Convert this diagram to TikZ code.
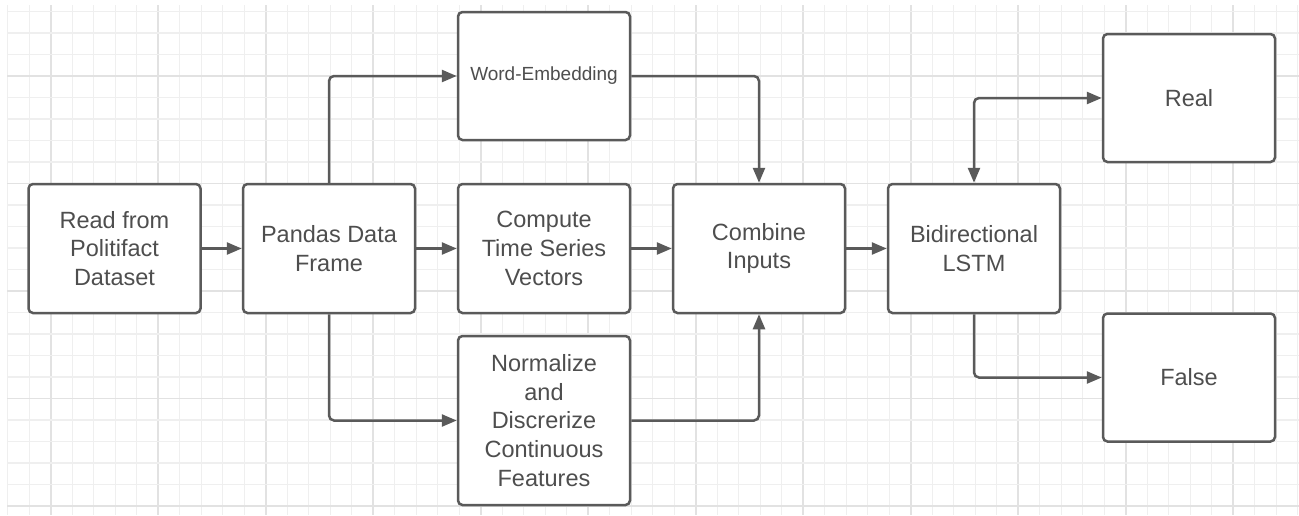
\documentclass[tikz,border=0pt]{standalone}
\usepackage{fontspec}
\setmainfont{Liberation Sans}
\usetikzlibrary{arrows.meta}
\definecolor{edge}{HTML}{5A5A5A}
\definecolor{ink}{HTML}{4E4E4E}
\definecolor{gridminor}{HTML}{EFEFEF}
\definecolor{gridmajor}{HTML}{E2E2E2}
\tikzset{
  stepbox/.style={draw=edge, line width=2.5pt, rounded corners=4.5pt, fill=white,
    minimum width=172pt, minimum height=129pt, align=center, text=ink,
    font=\fontsize{23.5pt}{28.7pt}\selectfont, inner sep=2pt},
  smalltext/.style={font=\fontsize{19pt}{23pt}\selectfont},
  conn/.style={draw=edge, line width=2.5pt, rounded corners=5pt,
    -{Triangle[length=15pt,width=12pt]}},
  biconn/.style={draw=edge, line width=2.5pt, rounded corners=5pt,
    {Triangle[length=15pt,width=12pt]}-{Triangle[length=15pt,width=12pt]}}
}
\begin{document}
\begin{tikzpicture}[x=1pt,y=-1pt]
% canvas
\fill[white] (0,0) rectangle (1299,515);
\useasboundingbox (0,0) rectangle (1299,515);
% background grid
\foreach \k in {0,...,60}{
  \pgfmathsetmacro{\gx}{7.7+21.5*\k}
  \pgfmathtruncatemacro{\m}{mod(\k+3,5)}
  \ifnum\m=0
    \draw[gridmajor, line width=1.8pt] (\gx,5) -- (\gx,515);
  \else
    \draw[gridminor, line width=1.4pt] (\gx,5) -- (\gx,515);
  \fi
}
\foreach \k in {0,...,23}{
  \pgfmathsetmacro{\gy}{11.5+21.5*\k}
  \pgfmathtruncatemacro{\m}{mod(\k+2,5)}
  \ifnum\m=0
    \draw[gridmajor, line width=1.8pt] (7,\gy) -- (1299,\gy);
  \else
    \draw[gridminor, line width=1.4pt] (7,\gy) -- (1299,\gy);
  \fi
}
% processing steps
\node[stepbox] (read) at (114.5,248.5) {Read from\\Politifact\\Dataset};
\node[stepbox] (pandas) at (329,248.5) {Pandas Data\\Frame};
\node[stepbox, smalltext, minimum height=128pt] (word) at (544,76) {Word-Embedding};
\node[stepbox] (compute) at (544,248.5) {Compute\\Time Series\\Vectors};
\node[stepbox, minimum height=169pt] (norm) at (544,420.5) {Normalize\\and\\Discrerize\\Continuous\\Features};
\node[stepbox] (combine) at (759,248.5) {Combine\\Inputs};
\node[stepbox] (bilstm) at (974,248.5) {Bidirectional\\LSTM};
\node[stepbox, minimum height=128pt] (real) at (1189,98) {Real};
\node[stepbox, minimum height=128pt] (false) at (1189,377.5) {False};
% connectors
\draw[conn] (read) -- (pandas);
\draw[conn] (pandas.north) |- (word.west);
\draw[conn] (pandas) -- (compute);
\draw[conn] (pandas.south) |- (norm.west);
\draw[conn] (word.east) -| (combine.north);
\draw[conn] (compute) -- (combine);
\draw[conn] (norm.east) -| (combine.south);
\draw[conn] (combine) -- (bilstm);
\draw[biconn] (bilstm.north) |- (real.west);
\draw[conn] (bilstm.south) |- (false.west);
\end{tikzpicture}
\end{document}
